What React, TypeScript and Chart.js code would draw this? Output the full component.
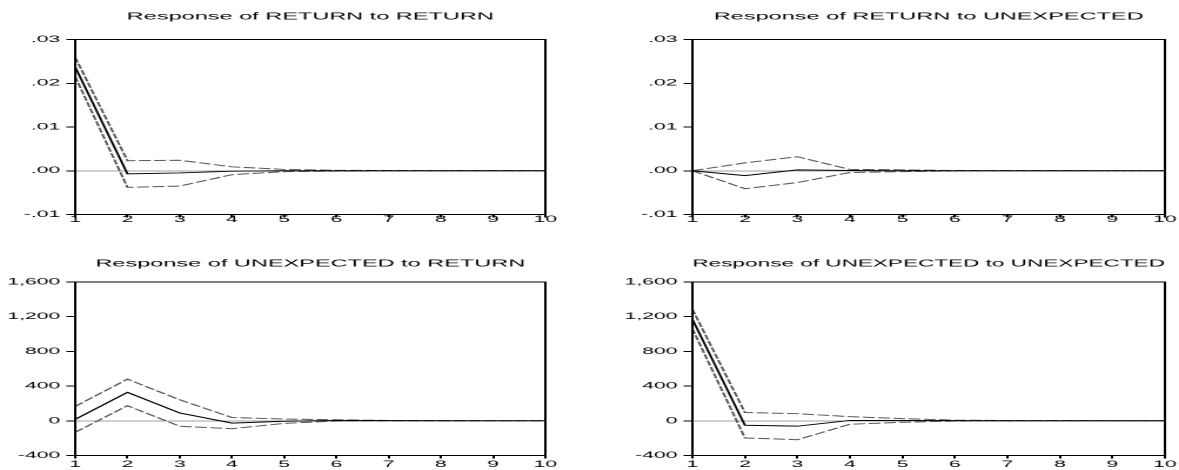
import React, { useEffect, useRef } from 'react';
import { Chart, registerables } from 'chart.js';

Chart.register(...registerables);

// ---------- data ----------
const periods = ['1', '2', '3', '4', '5', '6', '7', '8', '9', '10'];

const returnTicks = ['-.01', '.00', '.01', '.02', '.03'];
const unexpectedTicks = ['-400', '0', '400', '800', '1,200', '1,600'];

// Response of RETURN to RETURN
const retRet = [0.0237, -0.0007, -0.0005, -0.0001, 0.0, 0.0, 0.0, 0.0, 0.0, 0.0];
const retRetUp = [0.0259, 0.0023, 0.0024, 0.0009, 0.0003, 0.0001, 0.00005, 0.00003, 0.00002, 0.00001];
const retRetLo = [0.0215, -0.0038, -0.0035, -0.0009, -0.0002, -0.0001, -0.00005, -0.00003, -0.00002, -0.00001];

// Response of RETURN to UNEXPECTED
const retUnex = [0.0, -0.0011, 0.0002, 0.00005, 0.0, 0.0, 0.0, 0.0, 0.0, 0.0];
const retUnexUp = [0.0, 0.0018, 0.0032, 0.0003, 0.0002, 0.00005, 0.00003, 0.00002, 0.00001, 0.00001];
const retUnexLo = [0.0, -0.0041, -0.0027, -0.0004, -0.0002, -0.00005, -0.00003, -0.00002, -0.00001, -0.00001];

// Response of UNEXPECTED to RETURN
const unexRet = [17, 328, 90, -27, -5, 4, 2, 1, 0, 0];
const unexRetUp = [166, 480, 242, 38, 20, 12, 4, 2, 1, 1];
const unexRetLo = [-132, 174, -63, -91, -30, -2, 0, -1, -1, -1];

// Response of UNEXPECTED to UNEXPECTED
const unexUnex = [1170, -52, -62, 4, 4, 2, 1, 0, 0, 0];
const unexUnexUp = [1285, 96, 82, 48, 25, 8, 3, 2, 1, 1];
const unexUnexLo = [1060, -198, -218, -40, -17, -4, -1, -1, -1, -1];

// ---------- layout constants ----------
const STRETCH = 2.35; // the reference is horizontally stretched
const NAT_W = 251;
const NAT_H = 235;
const DPR = 2;
const FONT = '"Liberation Sans", Arial, Helvetica, sans-serif';

const framePlugin = {
  id: 'frame',
  afterDatasetsDraw(chart: any) {
    const { ctx, chartArea } = chart;
    const { left, right, top, bottom } = chartArea;
    ctx.save();
    ctx.strokeStyle = '#000';
    ctx.lineWidth = 1;
    ctx.strokeRect(left, top, right - left, bottom - top);
    ctx.restore();
  },
};

type PanelProps = {
  title: string;
  center: number[];
  upper: number[];
  lower: number[];
  yMin: number;
  yMax: number;
  yStep: number;
  yLabels: string[];
  left: number;
  top: number;
  axisWidth: number;
  padRight: number;
  titlePadTop: number;
  titlePadBottom: number;
  xAxisHeight: number;
  xLabelPad: number;
};

function Panel(p: PanelProps) {
  const ref = useRef<HTMLCanvasElement | null>(null);

  useEffect(() => {
    if (!ref.current) return;
    const dashed = {
      borderColor: '#555',
      borderWidth: 1,
      borderDash: [5, 1.5],
      pointRadius: 0,
      tension: 0,
      fill: false,
    };
    const chart = new Chart(ref.current, {
      type: 'line',
      data: {
        labels: periods,
        datasets: [
          { data: p.center, borderColor: '#000', borderWidth: 1, pointRadius: 0, tension: 0, fill: false },
          { data: p.upper, ...dashed },
          { data: p.lower, ...dashed },
        ],
      },
      options: {
        responsive: false,
        animation: false,
        devicePixelRatio: DPR,
        events: [],
        layout: { padding: { left: 0, right: p.padRight, top: 0, bottom: 0 } },
        plugins: {
          legend: { display: false },
          tooltip: { enabled: false },
          title: {
            display: true,
            text: p.title,
            fullSize: false,
            color: '#000',
            font: { family: FONT, size: 10, weight: 'normal', lineHeight: 1.2 },
            padding: { top: p.titlePadTop, bottom: p.titlePadBottom },
          },
        },
        scales: {
          x: {
            type: 'category',
            offset: false,
            border: { display: false },
            grid: {
              display: true,
              drawOnChartArea: false,
              drawTicks: true,
              tickLength: 3,
              tickColor: '#000',
            },
            ticks: {
              color: '#000',
              font: { family: FONT, size: 9 },
              padding: p.xLabelPad,
              maxRotation: 0,
              autoSkip: false,
            },
            afterFit: (s: any) => {
              s.height = p.xAxisHeight;
            },
          },
          y: {
            type: 'linear',
            min: p.yMin,
            max: p.yMax,
            border: { display: false },
            ticks: {
              stepSize: p.yStep,
              color: '#000',
              font: { family: FONT, size: 9 },
              padding: 2.6,
              callback: (_v: any, i: number) => p.yLabels[i],
            },
            grid: {
              drawOnChartArea: true,
              drawTicks: true,
              tickLength: 3.8,
              tickColor: '#000',
              lineWidth: 1,
              color: (c: any) =>
                c.tick && Math.abs(c.tick.value) < 1e-9 ? '#a0a0a0' : 'rgba(0,0,0,0)',
            },
            afterFit: (s: any) => {
              s.width = p.axisWidth;
            },
          },
        },
      },
      plugins: [framePlugin],
    } as any);
    return () => chart.destroy();
  }, []);

  return (
    <canvas
      ref={ref}
      width={NAT_W}
      height={NAT_H}
      style={{
        position: 'absolute',
        left: p.left,
        top: p.top,
        width: `${NAT_W * STRETCH}px`,
        height: `${NAT_H}px`,
      }}
    />
  );
}

const leftCol = { left: 0, axisWidth: 32, padRight: 19 };
const rightCol = { left: 589, axisWidth: 44, padRight: 6 };
const topRow = { top: 0, titlePadTop: 10.7, titlePadBottom: 16.8, xAxisHeight: 20.5, xLabelPad: -3.4 };
const bottomRow = { top: 235, titlePadTop: 22.6, titlePadBottom: 12.4, xAxisHeight: 14.5, xLabelPad: 0.6 };
const returnScale = { yMin: -0.01, yMax: 0.03, yStep: 0.01, yLabels: returnTicks };
const unexScale = { yMin: -400, yMax: 1600, yStep: 400, yLabels: unexpectedTicks };

export default function App() {
  return (
    <div
      style={{
        position: 'absolute',
        left: 0,
        top: 0,
        width: 1179,
        height: 470,
        overflow: 'hidden',
        background: '#fff',
      }}
    >
      <Panel
        title="Response of RETURN to RETURN"
        center={retRet}
        upper={retRetUp}
        lower={retRetLo}
        {...returnScale}
        {...leftCol}
        {...topRow}
      />
      <Panel
        title="Response of RETURN to UNEXPECTED"
        center={retUnex}
        upper={retUnexUp}
        lower={retUnexLo}
        {...returnScale}
        {...rightCol}
        {...topRow}
      />
      <Panel
        title="Response of UNEXPECTED to RETURN"
        center={unexRet}
        upper={unexRetUp}
        lower={unexRetLo}
        {...unexScale}
        {...leftCol}
        {...bottomRow}
      />
      <Panel
        title="Response of UNEXPECTED to UNEXPECTED"
        center={unexUnex}
        upper={unexUnexUp}
        lower={unexUnexLo}
        {...unexScale}
        {...rightCol}
        {...bottomRow}
      />
    </div>
  );
}
